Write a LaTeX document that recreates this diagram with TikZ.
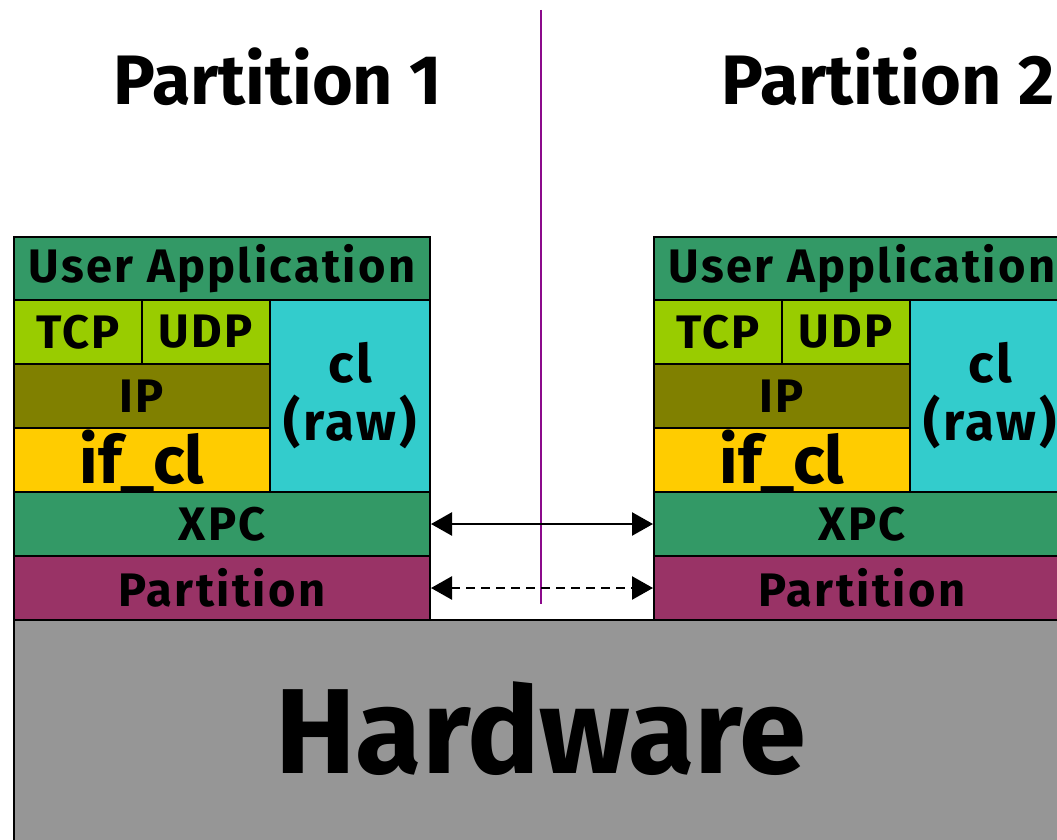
\documentclass[tikz,border=0pt]{standalone}
\usepackage{fontspec}
\setmainfont{Fira Sans}[LetterSpace=5]
\newfontfamily\plainsans{Fira Sans}
\usetikzlibrary{arrows.meta}
\definecolor{stackgreen}{HTML}{339966}
\definecolor{lime}{HTML}{99CC00}
\definecolor{olive}{HTML}{808000}
\definecolor{gold}{HTML}{FFCC00}
\definecolor{teal}{HTML}{33CCCC}
\definecolor{plum}{HTML}{993366}
\definecolor{hwgray}{HTML}{969696}
\definecolor{divider}{HTML}{8B0A8B}
\tikzset{
  layer/.style={draw=black, line width=2pt, anchor=north west, inner sep=0pt,
    font=\bfseries\fontsize{47}{50}\selectfont, align=center},
  title/.style={font=\plainsans\bfseries\fontsize{70}{72}\selectfont, inner sep=0pt},
  link/.style={line width=2.5pt, {Triangle[length=21pt,width=23pt]}-{Triangle[length=21pt,width=23pt]}},
}
\begin{document}
\begin{tikzpicture}[x=1pt,y=-1pt]
\useasboundingbox (0,0) rectangle (1057,840);
\clip (0,0) rectangle (1057,840);

% hardware base
\node[layer, fill=hwgray, minimum width=1100, minimum height=260] (hw) at (13,619) {};
\node[font=\plainsans\bfseries\fontsize{121}{124}\selectfont, inner sep=0pt, anchor=base] (hwlabel) at (541,773) {Hardware};

% one protocol stack per partition
\foreach \s/\x in {1/13, 2/653} {
  \node[layer, fill=stackgreen, minimum width=416, minimum height=63] (ua\s) at (\x,236) {User Application};
  \node[layer, fill=lime, minimum width=128, minimum height=64] (tcp\s) at (\x,299) {TCP};
  \node[layer, fill=lime, minimum width=128, minimum height=64] (udp\s) at (\x+128,299) {UDP};
  \node[layer, fill=olive, minimum width=256, minimum height=64] (ip\s) at (\x,363) {IP};
  \node[layer, fill=gold, minimum width=256, minimum height=64,
        font=\plainsans\bfseries\fontsize{66}{68}\selectfont, text depth=7pt] (ifcl\s) at (\x,427) {if\_cl};
  \node[layer, fill=teal, minimum width=160, minimum height=192,
        font=\bfseries\fontsize{53}{58}\selectfont] (raw\s) at (\x+256,299) {cl\\(raw)};
  \node[layer, fill=stackgreen, minimum width=416, minimum height=64] (xpc\s) at (\x,491) {XPC};
  \node[layer, fill=plum, minimum width=416, minimum height=64] (part\s) at (\x,555) {Partition};
}

% partition titles
\node[title] (t1) at (278,77) {Partition 1};
\node[title] (t2) at (888,77) {Partition 2};

% divider between partitions
\coordinate (divtop) at (541,10);
\coordinate (divbot) at (541,604);
\draw[divider, line width=2.5pt] (divtop) -- (divbot);

% cross-partition links
\draw[link] (xpc1.east) -- (xpc2.west);
\draw[link, dash pattern=on 9pt off 6pt] (part1.east) -- (part2.west);
\end{tikzpicture}
\end{document}
